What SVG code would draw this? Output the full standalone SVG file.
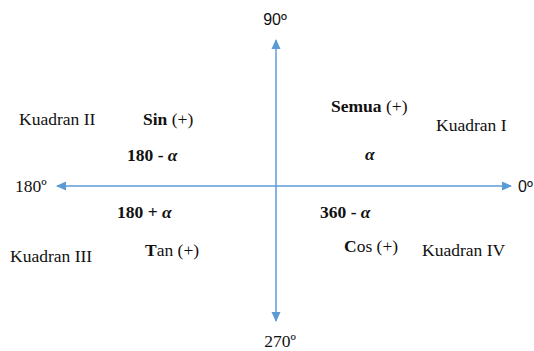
<svg xmlns="http://www.w3.org/2000/svg" width="534" height="351" viewBox="0 0 534 351">
<style>
.t{font-family:"Liberation Serif","Times New Roman",serif;font-size:17.5px;fill:#111}
.s{font-family:"Liberation Sans",Arial,sans-serif;font-size:16px;fill:#111}
.b{font-weight:bold}
.a{font-weight:bold;font-style:italic}
.ax{stroke:#5B9BD5;stroke-width:1.5;fill:none}
</style>
<defs>
<marker id="ah" viewBox="0 0 10 10" refX="9" refY="5" markerWidth="10" markerHeight="10" markerUnits="userSpaceOnUse" orient="auto">
<path d="M0,0.5 L10,5 L0,9.5 Z" fill="#5B9BD5"/>
</marker>
</defs>
<g id="connectors">
<line class="ax" x1="276" y1="186" x2="276" y2="40" marker-end="url(#ah)"/>
<line class="ax" x1="276" y1="186" x2="276" y2="321" marker-end="url(#ah)"/>
<line class="ax" x1="276" y1="186" x2="57" y2="186" marker-end="url(#ah)"/>
<line class="ax" x1="276" y1="186" x2="511" y2="186" marker-end="url(#ah)"/>
</g>
<g id="label-90"><text class="s" x="275" y="25" text-anchor="middle">90º</text></g>
<g id="label-0"><text class="s" x="518" y="192">0º</text></g>
<g id="label-180"><text class="t" x="15" y="192">180º</text></g>
<g id="label-270"><text class="t" x="280" y="347" text-anchor="middle">270º</text></g>
<g id="kuadran-1">
<text class="t" x="436" y="131">Kuadran I</text>
<text class="t" x="331" y="112"><tspan class="b">Semua</tspan> (+)</text>
<text class="t a" x="365" y="160">α</text>
</g>
<g id="kuadran-2">
<text class="t" x="19" y="125">Kuadran II</text>
<text class="t" x="143" y="125"><tspan class="b">Sin</tspan> (+)</text>
<text class="t b" x="127" y="161">180 - <tspan class="a">α</tspan></text>
</g>
<g id="kuadran-3">
<text class="t" x="10" y="262">Kuadran III</text>
<text class="t" x="145" y="256"><tspan class="b">T</tspan>an (+)</text>
<text class="t b" x="117" y="218">180 + <tspan class="a">α</tspan></text>
</g>
<g id="kuadran-4">
<text class="t" x="422" y="256">Kuadran IV</text>
<text class="t" x="344" y="252"><tspan class="b">C</tspan>os (+)</text>
<text class="t b" x="320" y="218">360 - <tspan class="a">α</tspan></text>
</g>
</svg>
